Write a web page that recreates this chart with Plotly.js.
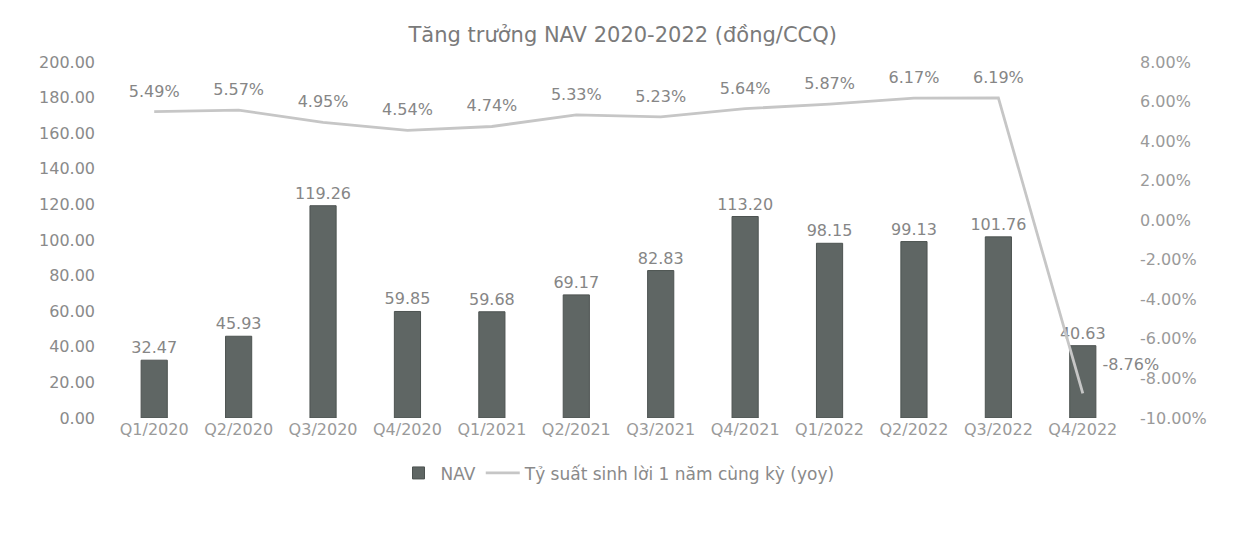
<!DOCTYPE html>
<html>
<head>
<meta charset="utf-8">
<script src="https://cdn.plot.ly/plotly-3.0.1.min.js"></script>
<style>html,body{margin:0;padding:0;background:#fff;}#chart{width:1253px;height:538px;}</style>
</head>
<body>
<div id="chart"></div>
<script>
const categories = ["Q1/2020","Q2/2020","Q3/2020","Q4/2020","Q1/2021","Q2/2021","Q3/2021","Q4/2021","Q1/2022","Q2/2022","Q3/2022","Q4/2022"];
const navValues = [32.47, 45.93, 119.26, 59.85, 59.68, 69.17, 82.83, 113.20, 98.15, 99.13, 101.76, 40.63];
const yoyValues = [5.49, 5.57, 4.95, 4.54, 4.74, 5.33, 5.23, 5.64, 5.87, 6.17, 6.19, -8.76];
const leftTicks = [0, 20, 40, 60, 80, 100, 120, 140, 160, 180, 200];
const rightTicks = [-10, -8, -6, -4, -2, 0, 2, 4, 6, 8];

const grey = '#868686';
const font = 'DejaVu Sans, Liberation Sans, sans-serif';

const lastIdx = yoyValues.length - 1;
const lineTextPos = yoyValues.map((v, i) => i === lastIdx ? 'top right' : 'top center');
const markerSizes = yoyValues.map((v, i) => i === lastIdx ? 30 : 16);

const traces = [
  {
    type: 'bar', name: 'NAV', x: categories, y: navValues,
    marker: {color: '#5f6664', line: {color: '#4d5351', width: 1}},
    text: navValues.map(v => v.toFixed(2)), textposition: 'outside', constraintext: 'none',
    textfont: {family: font, size: 16, color: grey}, cliponaxis: false,
    yaxis: 'y'
  },
  {
    type: 'scatter', mode: 'lines+markers+text', name: 'Tỷ suất sinh lời 1 năm cùng kỳ (yoy)',
    x: categories, y: yoyValues, yaxis: 'y2',
    line: {color: '#c6c6c6', width: 2.8, shape: 'linear'},
    marker: {size: markerSizes, color: 'rgba(0,0,0,0)', opacity: 0, line: {width: 0, color: 'rgba(0,0,0,0)'}},
    text: yoyValues.map(v => v.toFixed(2) + '%'), textposition: lineTextPos,
    textfont: {family: font, size: 16, color: grey}, cliponaxis: false
  }
];

const layout = {
  width: 1253, height: 538,
  paper_bgcolor: '#ffffff', plot_bgcolor: '#ffffff',
  margin: {l: 112, r: 128, t: 62, b: 120},
  title: {text: 'Tăng trưởng NAV 2020-2022 (đồng/CCQ)', x: 0.497, xanchor: 'center', y: 0.935, yanchor: 'middle',
          font: {family: font, size: 21, color: '#7a7a7a'}},
  font: {family: font, color: grey},
  bargap: 0.69,
  xaxis: {type: 'category', range: [-0.5, 11.5], autorange: false, showgrid: false, zeroline: false, showline: false, ticks: '',
          tickfont: {family: font, size: 16, color: '#9a9a9a'}},
  yaxis: {range: [0, 200], tickvals: leftTicks, ticktext: leftTicks.map(v => v.toFixed(2)),
          showgrid: false, zeroline: false, showline: false, ticks: '', ticklabelstandoff: 16,
          tickfont: {family: font, size: 16, color: '#8a8a8a'}},
  yaxis2: {overlaying: 'y', side: 'right', range: [-10, 8], tickvals: rightTicks,
           ticktext: rightTicks.map(v => v.toFixed(2) + '%'),
           showgrid: false, zeroline: false, showline: false, ticks: '', ticklabelstandoff: 14,
           tickfont: {family: font, size: 16, color: '#9a9a9a'}},
  showlegend: true,
  legend: {orientation: 'h', x: 0.5, xanchor: 'center', y: -0.105, yanchor: 'top',
           font: {family: font, size: 17, color: '#8a8a8a'}, itemwidth: 34, traceorder: 'normal'}
};

Plotly.newPlot('chart', traces, layout, {displayModeBar: false, staticPlot: true});
</script>
</body>
</html>
